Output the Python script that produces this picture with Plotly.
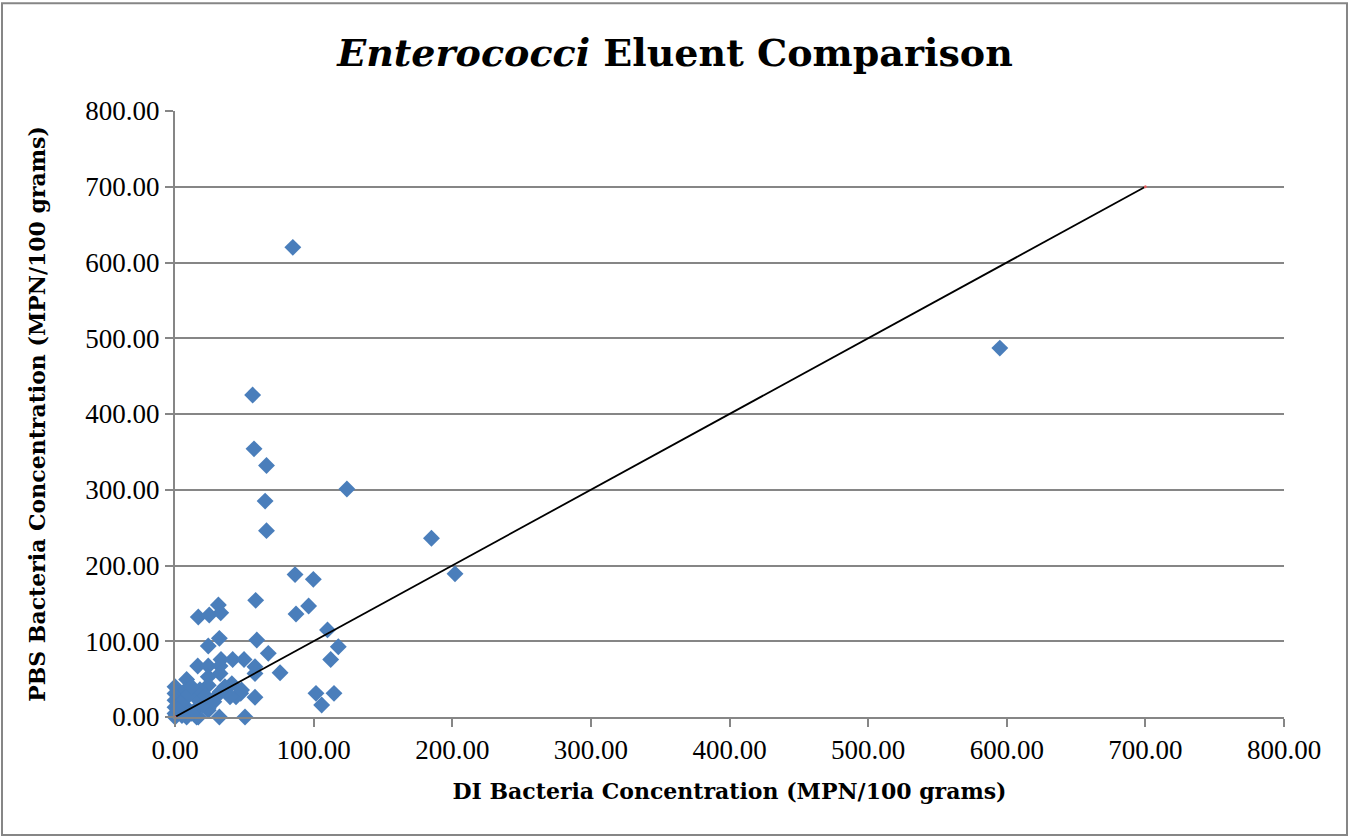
import plotly.graph_objects as go

di = [85, 595, 56, 57, 66, 65, 66, 124, 185, 202,
      86.6, 99.8, 58.2, 31.3, 16.8, 24.7, 33, 96.4, 87.3, 32,
      59, 110, 117.8, 112.3, 24, 67.3, 75.8, 33.2, 41.6, 49.8,
      57.7, 57.7, 16.4, 24, 32.5, 32.5, 24, 8.4, 101.7, 114.7,
      105.8, 57.7, 47.4, 32, 44, 32, 50.5, 24, 15.6, 0,
      24, 41, 48, 32.5, 39.7, 0, 0, 0, 0, 7.7,
      7.7, 7.7, 15.6, 15.6, 24, 8.4, 16.8, 3.6, 0, 4,
      12, 20, 28, 36, 10, 18, 5, 2, 12, 22]
pbs = [620, 487, 425, 354, 332, 285, 246, 301, 236, 189,
       188, 181.7, 154, 148, 132, 134.7, 137.7, 146.5, 136, 103.8,
       101.6, 115, 92.8, 76, 93.7, 84, 58.5, 76, 76, 76,
       66.4, 57.5, 67.3, 67.3, 67.3, 57.5, 53, 49.6, 31.2, 31.2,
       15.8, 26, 31.2, 31, 26.8, 0, 0, 9, 0, 40,
       42, 44, 35.6, 33, 26.8, 31, 22, 13, 4.6, 35.6,
       24.6, 13.6, 24.6, 11.4, 12, 0, 0, 7, 0, 18,
       5, 16, 20, 40, 30, 36, 2, 10, 40, 28]

line_x = [0, 700]
line_y = [0, 700]

fig = go.Figure()
fig.add_trace(go.Scatter(
    x=di, y=pbs, mode="markers",
    marker=dict(symbol="diamond", size=13, color="#4A7EBB",
                line=dict(width=0)),
    showlegend=False, cliponaxis=False))
fig.add_trace(go.Scatter(
    x=line_x, y=line_y, mode="lines+markers",
    line=dict(color="black", width=1.8),
    marker=dict(size=3, color="#E06060"),
    showlegend=False))

title_font = "DejaVu Serif"
tick_font = "Liberation Serif"
fig.update_layout(
    width=1350, height=838,
    margin=dict(l=175, r=66, t=111, b=121),
    paper_bgcolor="white", plot_bgcolor="white",
    title=dict(text="<b><i>Enterococci</i> Eluent Comparison</b>",
               x=0.5, xanchor="center", y=0.937, yanchor="middle",
               font=dict(family=title_font, size=38, color="black")),
    xaxis=dict(range=[0, 800], dtick=100, tickformat=".2f",
               showgrid=False, zeroline=False,
               showline=True, linecolor="#868686", linewidth=2,
               ticks="outside", ticklen=8, tickcolor="#868686", tickwidth=2,
               tickfont=dict(family=tick_font, size=27, color="black"),
               title=dict(text="<b>DI Bacteria Concentration (MPN/100 grams)</b>",
                          font=dict(family=title_font, size=22, color="black"),
                          standoff=19)),
    yaxis=dict(range=[0, 800], dtick=100, tickformat=".2f",
               showgrid=True, gridcolor="#868686", gridwidth=2,
               zeroline=False,
               showline=True, linecolor="#868686", linewidth=2,
               ticks="outside", ticklen=8, tickcolor="#868686", tickwidth=2,
               tickfont=dict(family=tick_font, size=27, color="black"),
               title=dict(text="<b>PBS Bacteria Concentration (MPN/100 grams)</b>",
                          font=dict(family=title_font, size=22, color="black"),
                          standoff=34)),
    shapes=[dict(type="rect", xref="paper", yref="paper",
                 x0=-0.156, x1=1.0568, y0=-0.1947, y1=1.178,
                 line=dict(color="#868686", width=2), layer="below")],
)

fig.write_html("out.html", config={"displayModeBar": False},
               post_script="document.body.style.margin='0';")
